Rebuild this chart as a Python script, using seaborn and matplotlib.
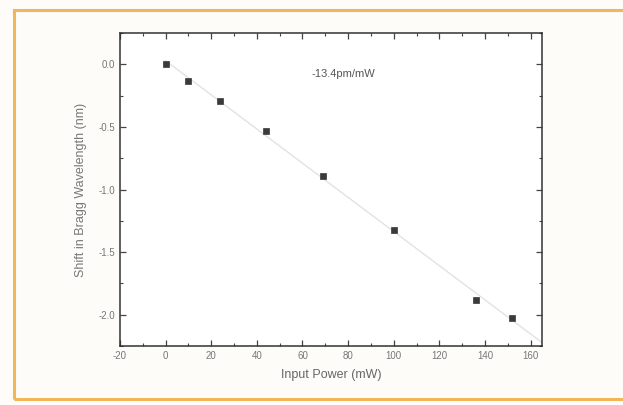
import matplotlib
matplotlib.use('Agg')
import matplotlib.pyplot as plt
import seaborn as sns
import numpy as np
import pandas as pd
from matplotlib.patches import Rectangle
from matplotlib.ticker import MultipleLocator

# 数据：输入功率与布拉格波长偏移
power = [0, 10, 24, 44, 69, 100, 136, 152]
shift = [0.0, -0.13, -0.29, -0.53, -0.89, -1.32, -1.88, -2.03]
slope_label = '-13.4pm/mW'

sns.set_theme(style='ticks')
plt.rcParams['font.family'] = ['Liberation Sans', 'DejaVu Sans']
plt.rcParams['axes.unicode_minus'] = False

df = pd.DataFrame({'power': power, 'shift': shift})

fig = plt.figure(figsize=(6.23, 4.05), dpi=100)
fig.patch.set_facecolor('#fdfcf9')

# 扫描件的橙色边框
fig.patches.append(Rectangle((14 / 623, 6 / 405), 1.0, 389 / 405, transform=fig.transFigure,
                             fill=False, edgecolor='#f3b55a', linewidth=2.2))

ax = fig.add_axes([120 / 623, 1 - 346 / 405, 422 / 623, 313 / 405])
ax.set_facecolor('white')

# 线性拟合（浅灰色）
k, b = np.polyfit(power, shift, 1)
fit_x = np.array([0, 165])
fit = pd.DataFrame({'power': fit_x, 'shift': k * fit_x + b})
sns.lineplot(data=fit, x='power', y='shift', ax=ax, color='#e2e2e2', linewidth=1.0)

sns.scatterplot(data=df, x='power', y='shift', ax=ax, marker='s', s=16,
                color='#3a3a3a', edgecolor='#3a3a3a', linewidth=0.5, zorder=3)

ax.text(64, -0.10, slope_label, fontsize=8, color='#555555')

ax.set_xlim(-20, 165)
ax.set_ylim(-2.25, 0.25)
ax.xaxis.set_major_locator(MultipleLocator(20))
ax.xaxis.set_minor_locator(MultipleLocator(10))
ax.yaxis.set_major_locator(MultipleLocator(0.5))
ax.yaxis.set_minor_locator(MultipleLocator(0.25))
ax.yaxis.set_major_formatter(matplotlib.ticker.FormatStrFormatter('%.1f'))

ax.tick_params(which='both', direction='in', top=True, right=True,
               colors='#444444', labelcolor='#777777', labelsize=7)
ax.tick_params(which='major', length=4, width=0.9)
ax.tick_params(which='minor', length=2.5, width=0.8)
for sp in ax.spines.values():
    sp.set_color('#333333')
    sp.set_linewidth(1.1)

ax.set_xlabel('Input Power (mW)', fontsize=9, color='#666666', labelpad=6)
ax.set_ylabel('Shift in Bragg Wavelength (nm)', fontsize=9, color='#777777', labelpad=8)

fig.savefig('out.png', dpi=100, facecolor=fig.get_facecolor())
